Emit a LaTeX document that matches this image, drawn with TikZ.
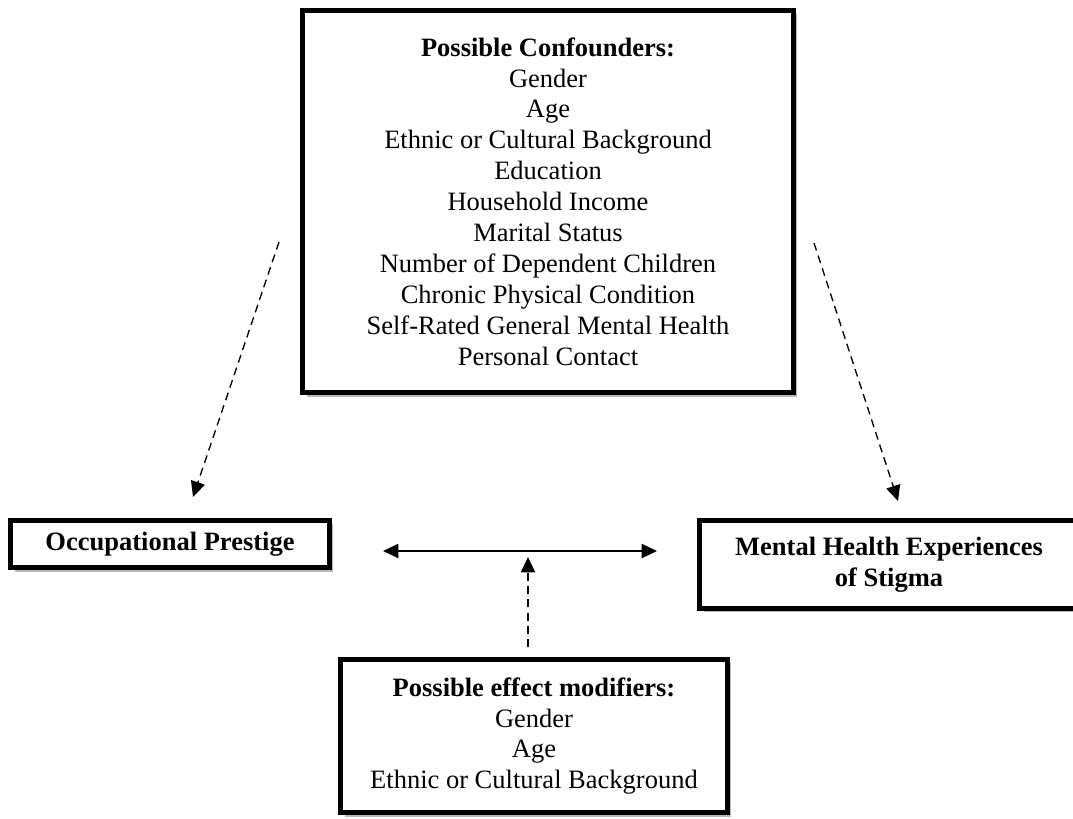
\documentclass[tikz,border=0pt]{standalone}
\usepackage{fontspec}
\setmainfont{Liberation Serif}
\usetikzlibrary{arrows.meta,shadows}

\begin{document}
\begin{tikzpicture}[x=0.4528pt,y=-0.4528pt]
\tikzstyle{factor}=[draw,line width=2.3pt,fill=white,align=center,inner sep=0pt,
  font=\fontsize{12}{14}\selectfont,
  drop shadow={shadow xshift=1.8pt,shadow yshift=-1.8pt,fill=black!40,opacity=.7}]
\tikzstyle{dep}=[dash pattern=on 3.6pt off 2.4pt,line width=0.6pt,-{Triangle[length=7pt,width=6.5pt]}]
\tikzstyle{assoc}=[line width=0.6pt,{Triangle[length=7pt,width=6.5pt]}-{Triangle[length=7pt,width=6.5pt]}]
\useasboundingbox (0,0) rectangle (1073,818);
\clip (0,0) rectangle (1073,818);
\node[factor,minimum width=222.3pt,minimum height=173pt] (conf) at (548,201.5)
  {\textbf{Possible Confounders:}\\Gender\\Age\\Ethnic or Cultural Background\\Education\\
   Household Income\\Marital Status\\Number of Dependent Children\\Chronic Physical Condition\\
   Self-Rated General Mental Health\\Personal Contact};
\node[factor,minimum width=144.4pt,minimum height=21.3pt] (occ) at (170,544)
  {\textbf{Occupational Prestige}};
\node[factor,minimum width=171.6pt,minimum height=39.8pt] (mh) at (889,564.5)
  {\textbf{Mental Health Experiences}\\\textbf{of Stigma}};
\node[factor,minimum width=175.2pt,minimum height=69.3pt] (mod) at (534,736)
  {\textbf{Possible effect modifiers:}\\Gender\\Age\\Ethnic or Cultural Background};
\coordinate (confL) at (279,242);
\coordinate (occT) at (193,497);
\coordinate (confR) at (814,243);
\coordinate (mhT) at (898,501);
\coordinate (occR) at (383,551);
\coordinate (mhL) at (657,551);
\coordinate (modT) at (528,647);
\coordinate (assocB) at (528,557);
\draw[dep] (confL) -- (occT);
\draw[dep] (confR) -- (mhT);
\draw[assoc] (occR) -- (mhL);
\draw[dep] (modT) -- (assocB);
\end{tikzpicture}
\end{document}
